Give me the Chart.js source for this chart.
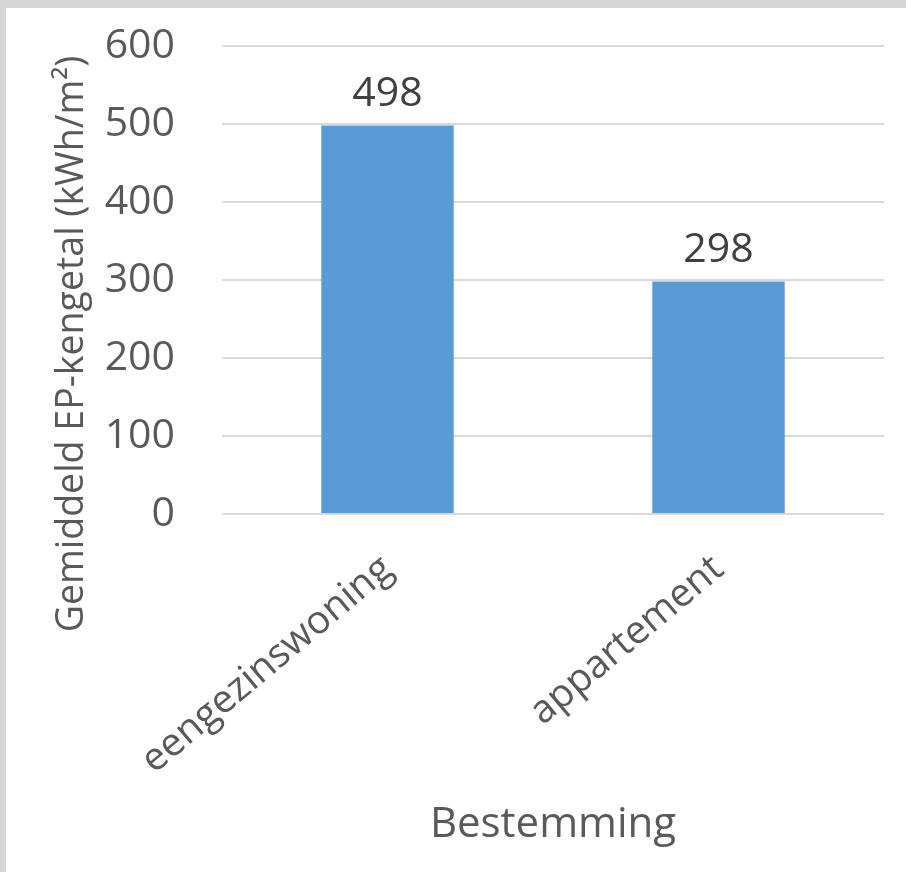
<!DOCTYPE html>
<html>
<head>
<meta charset="utf-8">
<script src="https://cdn.jsdelivr.net/npm/chart.js@4.4.1/dist/chart.umd.min.js"></script>
<style>
    html, body { margin: 0; padding: 0; background: #d6d6d6; width: 906px; height: 872px; overflow: hidden; }
    #frame { position: absolute; left: 6px; top: 8px; width: 900px; height: 864px; background: #ffffff; }
</style>
</head>
<body>
<div id="frame"><canvas id="epChart" width="900" height="864"></canvas></div>
<script>
const categories = ['eengezinswoning', 'appartement'];
const epValues = [498, 298];
const yTicks = [0, 100, 200, 300, 400, 500, 600];
const yTitle = 'Gemiddeld EP-kengetal (kWh/m\u00b2)';
const xTitle = 'Bestemming';

const fontFamily = '"Open Sans", "Noto Sans", sans-serif';

// waarden boven de staven
const valueLabels = {
    id: 'valueLabels',
    afterDatasetsDraw(chart) {
        const ctx = chart.ctx;
        const meta = chart.getDatasetMeta(0);
        ctx.save();
        ctx.font = '41px ' + fontFamily;
        ctx.fillStyle = '#404040';
        ctx.textAlign = 'center';
        ctx.textBaseline = 'alphabetic';
        meta.data.forEach((bar, i) => {
            ctx.fillText(String(epValues[i]), bar.x, bar.y - 20);
        });
        ctx.restore();
    }
};

// titel van de y-as, iets lager dan het midden zoals in Excel
const yAxisTitle = {
    id: 'yAxisTitle',
    afterDraw(chart) {
        const ctx = chart.ctx;
        const area = chart.chartArea;
        ctx.save();
        ctx.translate(66, area.bottom - 170);
        ctx.rotate(-Math.PI / 2);
        ctx.font = '37.5px ' + fontFamily;
        ctx.fillStyle = '#595959';
        ctx.textAlign = 'center';
        ctx.textBaseline = 'middle';
        ctx.fillText(yTitle, 0, 0);
        ctx.restore();
    }
};

const ctx = document.getElementById('epChart').getContext('2d');
const chart = new Chart(ctx, {
    type: 'bar',
    data: {
        labels: categories,
        datasets: [{
            data: epValues,
            backgroundColor: '#5b9bd5',
            borderWidth: 0,
            barPercentage: 0.4,
            categoryPercentage: 1.0
        }]
    },
    options: {
        responsive: false,
        animation: false,
        devicePixelRatio: 1,
        layout: { padding: { top: 38, right: 22, bottom: 0, left: 0 } },
        plugins: {
            legend: { display: false },
            tooltip: { enabled: false }
        },
        scales: {
            x: {
                grid: { display: false, drawTicks: false },
                border: { display: false },
                ticks: {
                    color: '#595959',
                    font: { family: fontFamily, size: 39 },
                    minRotation: 40,
                    maxRotation: 40,
                    padding: 32
                },
                title: {
                    display: true,
                    text: xTitle,
                    color: '#595959',
                    font: { family: fontFamily, size: 42 },
                    padding: { top: 0, bottom: 22 }
                },
                afterFit(scale) { scale.height = 358; }
            },
            y: {
                min: 0,
                max: 600,
                afterBuildTicks(scale) { scale.ticks = yTicks.map(v => ({ value: v })); },
                // onzichtbare tick-streepjes zorgen voor de ruimte tussen getallen en raster
                grid: { color: '#d9d9d9', lineWidth: 2, drawTicks: true, tickLength: 44, tickColor: 'rgba(0,0,0,0)' },
                border: { display: false },
                ticks: {
                    color: '#595959',
                    font: { family: fontFamily, size: 41 },
                    padding: 3
                },
                afterFit(scale) { scale.width = 216; }
            }
        }
    },
    plugins: [valueLabels, yAxisTitle]
});
</script>
</body>
</html>
